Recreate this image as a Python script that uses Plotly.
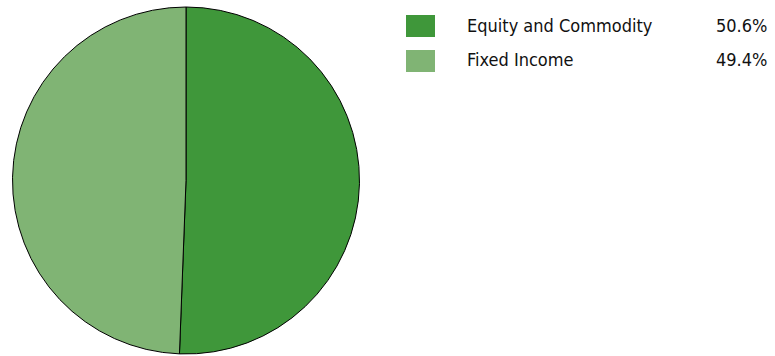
import plotly.graph_objects as go

labels = ["Equity and Commodity", "Fixed Income"]
values = [50.6, 49.4]
colors = ["#3f973a", "#80b474"]

W, H = 775, 356
font_family = "Liberation Sans Narrow, DejaVu Sans Condensed, Arial Narrow, sans-serif"

fig = go.Figure(go.Pie(
    labels=labels, values=values, sort=False, direction="clockwise", rotation=0,
    marker=dict(colors=colors, line=dict(color="#000000", width=1)),
    textinfo="none", hoverinfo="label+percent", showlegend=False,
    domain=dict(x=[12 / W, 360 / W], y=[1 - 354 / H, 1 - 7 / H]),
))

shapes = []
annotations = []
for i, (lab, val, col) in enumerate(zip(labels, values, colors)):
    top = 15 + i * 35
    bot = top + 22
    mid = (top + bot) / 2 - 1
    shapes.append(dict(type="rect", xref="paper", yref="paper",
                       x0=406 / W, x1=435 / W, y0=1 - bot / H, y1=1 - top / H,
                       fillcolor=col, line=dict(width=0)))
    annotations.append(dict(x=465 / W, y=1 - mid / H, xref="paper", yref="paper",
                            text=lab, showarrow=False, xanchor="left", yanchor="middle",
                            font=dict(family=font_family, size=18, color="#111111")))
    annotations.append(dict(x=769 / W, y=1 - mid / H, xref="paper", yref="paper",
                            text=f"{val:.1f}%", showarrow=False, xanchor="right", yanchor="middle",
                            font=dict(family=font_family, size=18, color="#111111")))

fig.update_layout(width=W, height=H, margin=dict(l=0, r=0, t=0, b=0),
                  paper_bgcolor="white", plot_bgcolor="white",
                  shapes=shapes, annotations=annotations)

fig.write_html("out.html", config={"displayModeBar": False},
               post_script="document.body.style.margin='0';document.body.style.overflow='hidden';")
